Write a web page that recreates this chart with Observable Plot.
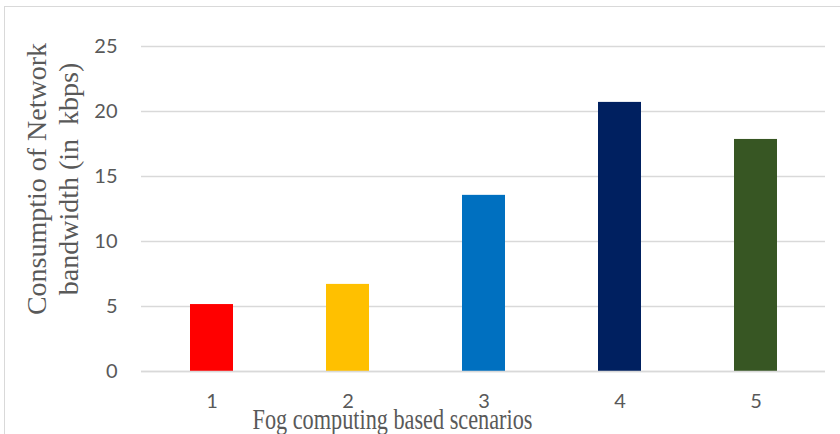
<!DOCTYPE html>
<html>
<head>
<meta charset="utf-8">
<script src="https://cdn.jsdelivr.net/npm/d3@7"></script>
<script src="https://cdn.jsdelivr.net/npm/@observablehq/plot@0.6"></script>
<style>
  html, body { margin: 0; padding: 0; background: #fff; }
  #wrap { position: relative; width: 840px; height: 434px; overflow: hidden; }
  #frame { position: absolute; left: 4px; top: 6px; width: 900px; height: 500px;
           border-left: 1.5px solid #d9d9d9; border-top: 1.5px solid #d9d9d9; }
  #chart { position: absolute; left: 0; top: 0; }
</style>
</head>
<body>
<div id="wrap"><div id="frame"></div><div id="chart"></div></div>
<script>
const scenarios = ["1", "2", "3", "4", "5"];
const bandwidth = [5.15, 6.7, 13.55, 20.7, 17.85];
const barColors = ["#FF0000", "#FFC000", "#0070C0", "#002060", "#375623"];
const yTicks = [0, 5, 10, 15, 20, 25];
const xTitle = "Fog computing based scenarios";
const yTitle = "Consumptio of Network\nbandwidth (in  kbps)";

const data = scenarios.map((s, i) => ({scenario: s, value: bandwidth[i]}));
const tickFont = "Lato, 'Open Sans', sans-serif";
const serif = "'Liberation Serif', 'DejaVu Serif', serif";

const chart = Plot.plot({
  width: 840,
  height: 434,
  marginLeft: 141,
  marginRight: 15,
  marginTop: 46,
  marginBottom: 63,
  style: {background: "transparent", overflow: "visible"},
  x: {domain: scenarios, paddingInner: 0.686, paddingOuter: 0.343, label: null},
  y: {domain: [0, 25], label: null},
  color: {domain: scenarios, range: barColors},
  marks: [
    Plot.gridY(yTicks, {stroke: "#d9d9d9", strokeOpacity: 1, strokeWidth: 1.5}),
    Plot.barY(data, {x: "scenario", y: "value", fill: "scenario"}),
    Plot.ruleY([0], {stroke: "#d9d9d9", strokeWidth: 1.5}),
    Plot.axisY(yTicks, {tickSize: 0, tickPadding: 24, fontSize: 20, fontFamily: tickFont, fill: "#595959", label: null}),
    Plot.axisX(scenarios, {tickSize: 0, tickPadding: 22, fontSize: 20, fontFamily: tickFont, fill: "#595959", label: null}),
    Plot.text([xTitle], {text: d => d, frameAnchor: "bottom", dx: -91, dy: 48, fontSize: 29,
      fontFamily: serif, fill: "#595959", textAnchor: "middle", lineAnchor: "middle", className: "xtitle"}),
    Plot.text([yTitle], {text: d => d, frameAnchor: "left", dx: -90, dy: -30, rotate: -90,
      textAnchor: "middle", lineAnchor: "middle", fontSize: 28, lineHeight: 1.14, fontFamily: serif, fill: "#595959"})
  ]
});
document.getElementById("chart").appendChild(chart);
const xt = chart.querySelector(".xtitle text");
if (xt) { xt.setAttribute("textLength", 280); xt.setAttribute("lengthAdjust", "spacingAndGlyphs"); }
</script>
</body>
</html>
